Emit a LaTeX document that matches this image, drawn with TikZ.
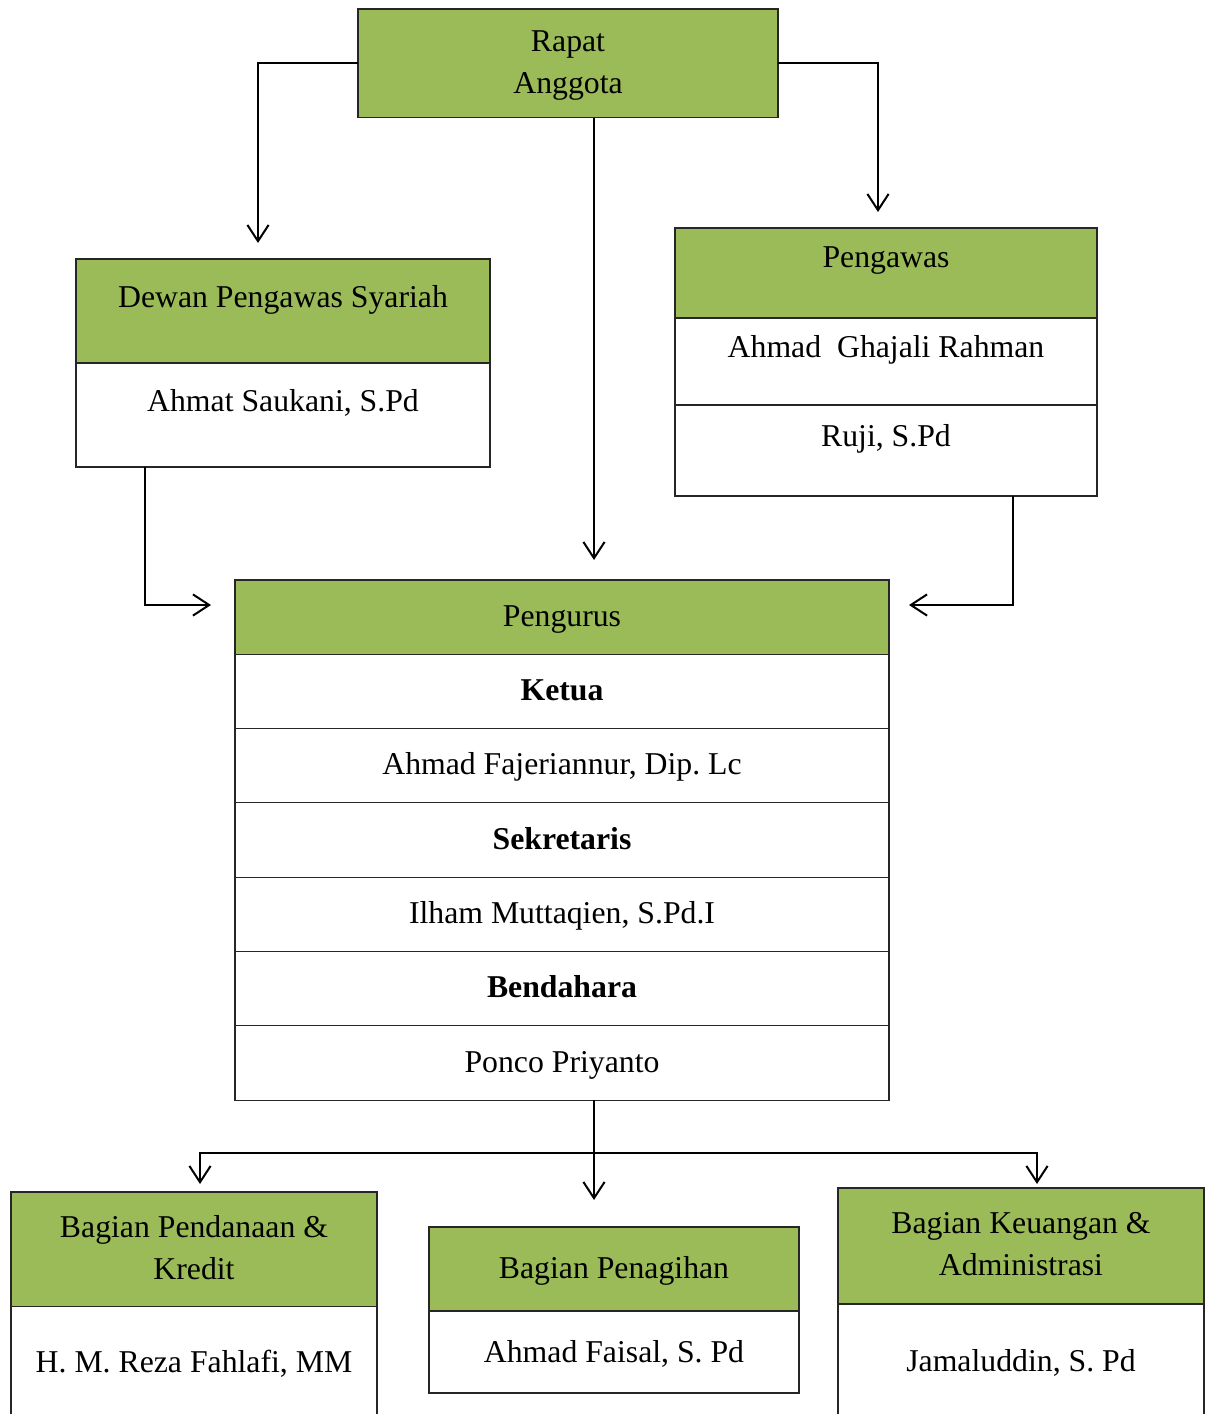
\documentclass[tikz,border=0pt]{standalone}
\usepackage{fontspec}
\setmainfont{Liberation Serif}
\usetikzlibrary{arrows.meta,positioning,calc}
\definecolor{greenhead}{HTML}{9BBB59}
\frenchspacing
\newlength\pxu
\setlength\pxu{0.4pt}
% strut: height above baseline, depth below (in px)
\newcommand{\cellstrut}[2]{\rule[-#2\pxu]{0pt}{\dimexpr#1\pxu+#2\pxu\relax}}
\tikzset{
    arr/.style = {-{Straight Barb[length=6.5pt,width=8.5pt]}, line width=0.8pt},
   cell/.style = {draw=black!85, line width=0.45pt, inner sep=0pt, outer sep=0pt,
                  align=center, minimum width=#1,
                  font=\fontsize{12.7pt}{17pt}\selectfont},
   head/.style = {cell=#1, fill=greenhead},
}

\begin{document}
\begin{tikzpicture}[x=0.4pt,y=-0.4pt, node distance=0pt]
  \useasboundingbox (0,0) rectangle (1212,1414);
  \clip (0,0) rectangle (1212,1414);

  % top
  \node[head=168pt,anchor=north west] (rapat) at (358,9)
       {\cellstrut{42}{0}Rapat\\Anggota\cellstrut{0}{24}};

  % dewan pengawas syariah
  \node[head=165.6pt,anchor=north west] (dewan) at (76,259)
       {\cellstrut{48}{56}Dewan Pengawas Syariah};
  \node[cell=165.6pt,below=of dewan] (dewanA) {\cellstrut{48}{56}Ahmat Saukani, S.Pd};

  % pengawas
  \node[head=168.8pt,anchor=north west] (pengawas) at (675,228)
       {\cellstrut{39}{51}Pengawas};
  \node[cell=168.8pt,below=of pengawas] (pengawasA) {\cellstrut{39}{48}Ahmad\ \ Ghajali Rahman};
  \node[cell=168.8pt,below=of pengawasA] (pengawasB) {\cellstrut{41}{50}Ruji, S.Pd};

  % pengurus
  \node[head=261.6pt,anchor=north west] (pengurus) at (235,580)
       {\cellstrut{46.3}{28}Pengurus};
  \node[cell=261.6pt,below=of pengurus] (ketua) {\cellstrut{46.3}{28}\textbf{Ketua}};
  \node[cell=261.6pt,below=of ketua] (ketuaN) {\cellstrut{46.3}{28}Ahmad Fajeriannur, Dip. Lc};
  \node[cell=261.6pt,below=of ketuaN] (sekr) {\cellstrut{46.3}{28}\textbf{Sekretaris}};
  \node[cell=261.6pt,below=of sekr] (sekrN) {\cellstrut{46.3}{28}Ilham Muttaqien, S.Pd.I};
  \node[cell=261.6pt,below=of sekrN] (bend) {\cellstrut{46.3}{28}\textbf{Bendahara}};
  \node[cell=261.6pt,below=of bend] (bendN) {\cellstrut{46.3}{28}Ponco Priyanto};

  % bagian
  \node[head=146.4pt,anchor=north west] (pendanaan) at (11,1192)
       {\cellstrut{45}{0}Bagian Pendanaan \&\\Kredit\cellstrut{0}{27}};
  \node[cell=146.4pt,below=of pendanaan] (pendanaanA) {\cellstrut{66}{60}H. M. Reza Fahlafi, MM};

  \node[head=148pt,anchor=north west] (penagihan) at (429,1227)
       {\cellstrut{51}{33}Bagian Penagihan};
  \node[cell=148pt,below=of penagihan] (penagihanA) {\cellstrut{51}{31}Ahmad Faisal, S. Pd};

  \node[head=146.4pt,anchor=north west] (keuangan) at (838,1188)
       {\cellstrut{45}{0}Bagian Keuangan \&\\Administrasi\cellstrut{0}{28.5}};
  \node[cell=146.4pt,below=of keuangan] (keuanganA) {\cellstrut{67}{60}Jamaluddin, S. Pd};

  % arrow ends
  \coordinate (d1) at (258,243);
  \coordinate (p1) at (878,212);
  \coordinate (m1) at (594,560);
  \coordinate (d2) at (211,605);
  \coordinate (p2) at (909,605);
  \coordinate (split) at (594,1153);
  \coordinate (b1) at (200,1184);
  \coordinate (b2) at (594,1200);
  \coordinate (b3) at (1037,1184);

  \draw[arr] (rapat.west) -| (d1);
  \draw[arr] (rapat.east) -| (p1);
  \draw[arr] (rapat.south -| m1) -- (m1);
  \draw[arr] ([xshift=27.6pt]dewanA.south west) |- (d2);
  \draw[arr] ([xshift=-33.6pt]pengawasB.south east) |- (p2);

  \draw[arr] (bendN.south -| b2) -- (b2);
  \draw[arr] (split) -| (b1);
  \draw[arr] (split) -| (b3);
\end{tikzpicture}
\end{document}
